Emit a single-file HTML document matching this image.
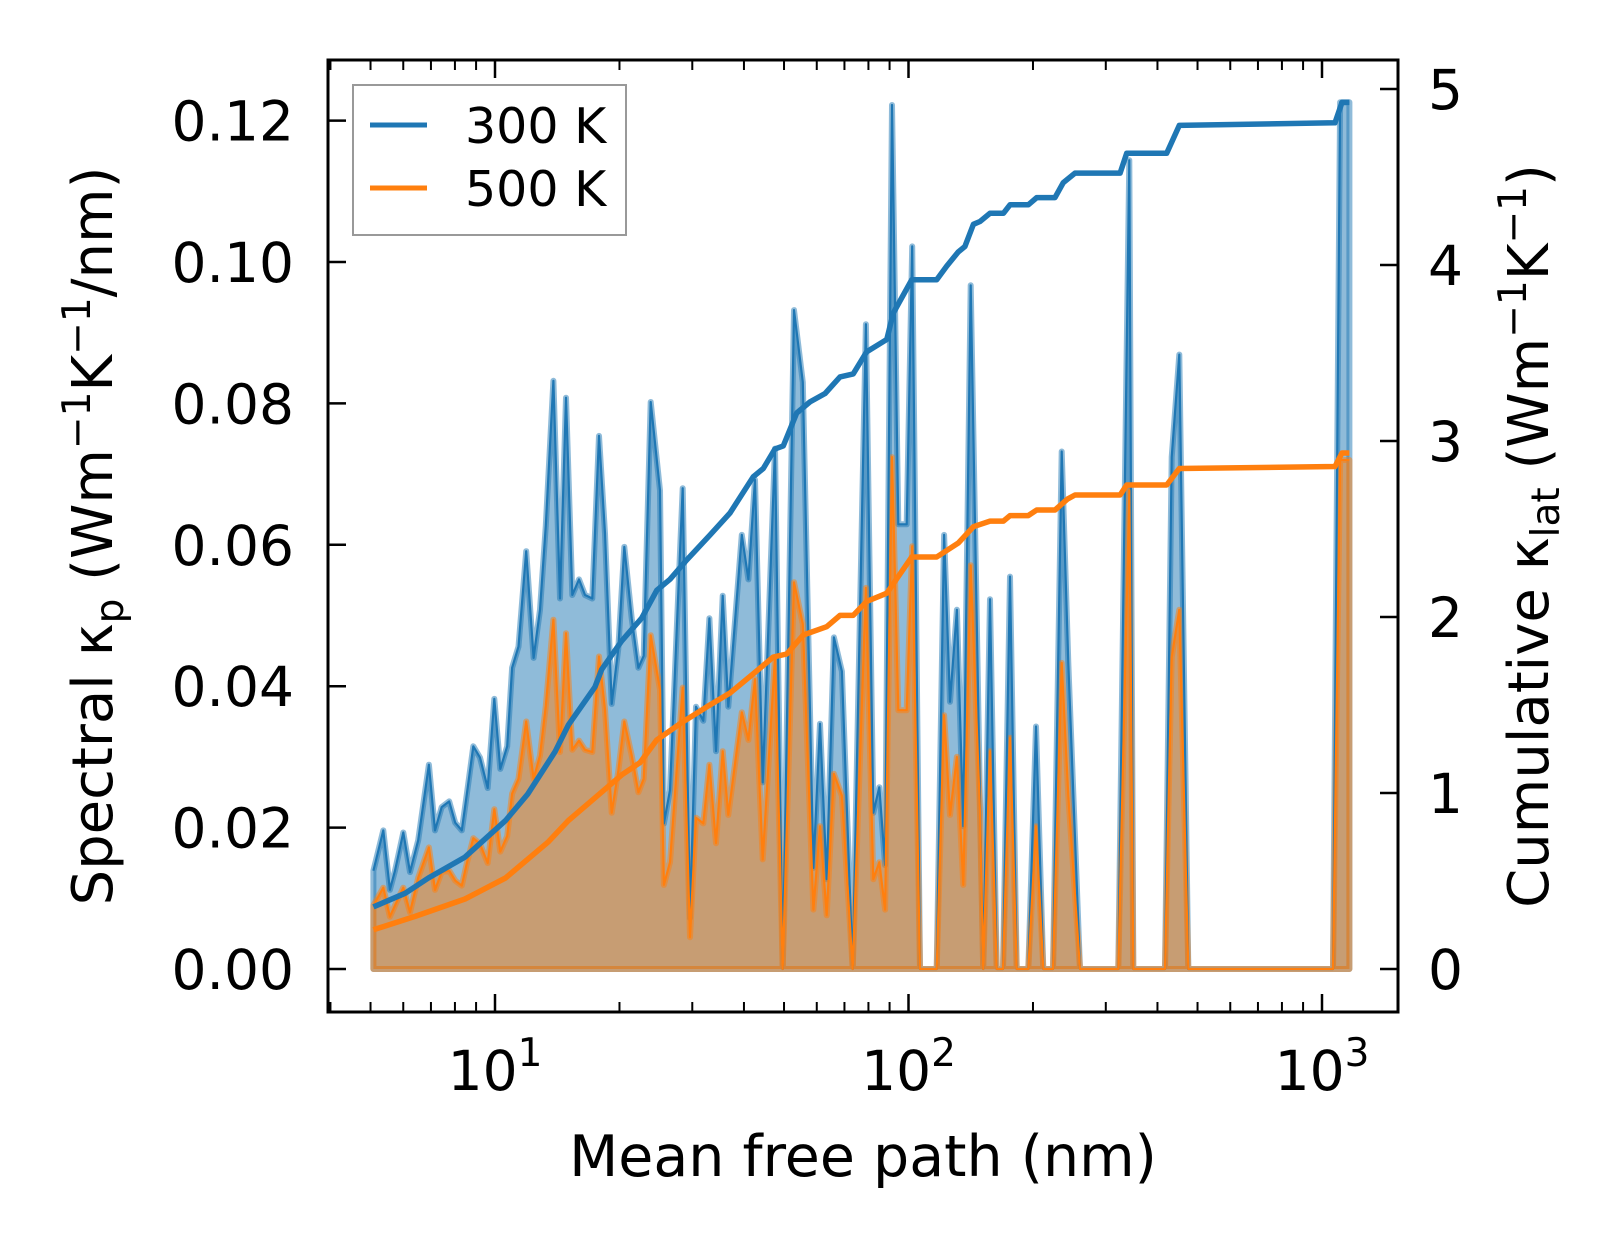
<!DOCTYPE html>
<html><head><meta charset="utf-8">
<style>
html,body{margin:0;padding:0;background:#fff;}
svg{display:block;font-family:"DejaVu Sans","Liberation Sans",sans-serif;}
</style></head>
<body>
<svg id="chart" width="1623" height="1254" viewBox="0 0 1623 1254" xmlns="http://www.w3.org/2000/svg">
  <rect x="0" y="0" width="1623" height="1254" fill="#fff"/>
  <g id="plot"></g>
  <g id="axes"></g>
  <text x="863" y="1176" font-size="57" text-anchor="middle">Mean free path (nm)</text>
  <text transform="translate(112,536) rotate(-90)" font-size="56" text-anchor="middle">Spectral κ<tspan font-size="39" dy="11">p</tspan><tspan dy="-11"> (Wm</tspan><tspan font-size="39" dy="-22">−1</tspan><tspan dy="22">K</tspan><tspan font-size="39" dy="-22">−1</tspan><tspan dy="22">/nm)</tspan></text>
  <text transform="translate(1548,536) rotate(-90)" font-size="56" text-anchor="middle">Cumulative κ<tspan font-size="39" dy="11">lat</tspan><tspan dy="-11"> (Wm</tspan><tspan font-size="39" dy="-22">−1</tspan><tspan dy="22">K</tspan><tspan font-size="39" dy="-22">−1</tspan><tspan dy="22">)</tspan></text>
  <g>
    <rect x="353" y="85" width="273" height="150" fill="#fff" fill-opacity="0.8" stroke="#999" stroke-width="2"/>
    <line x1="370" y1="125" x2="427" y2="125" stroke="#1f77b4" stroke-width="5"/>
    <text x="465" y="143" font-size="49">300 K</text>
    <line x1="370" y1="188" x2="427" y2="188" stroke="#ff7f0e" stroke-width="5"/>
    <text x="465" y="206" font-size="49">500 K</text>
  </g>
</svg>
<script>
// ---- data ----
const mfp = [5.08,5.37,5.57,5.73,6.00,6.23,6.52,6.92,7.16,7.43,7.75,8.01,8.31,8.55,8.86,9.20,9.60,9.96,10.3,10.7,11.0,11.4,11.9,12.4,12.85,13.27,13.84,14.36,14.85,15.38,15.96,16.51,17.19,17.84,18.45,19.15,19.87,20.54,21.41,22.22,22.89,23.80,25.06,25.62,26.5,28.44,29.62,30.62,31.90,32.99,34.24,35.54,36.67,39.52,41.0,42.55,44.41,47.55,49.64,52.85,55.5,58.9,61.1,63.4,66.0,69.0,73.3,78.9,82.2,85.0,87.8,91.2,94.5,99.0,102.1,106.6,117.0,121.9,126.0,130.9,135.7,141.4,148.9,151.6,157.4,163.4,169.3,176.0,182.7,194.9,203.4,211.8,223.6,234.7,243.5,259.8,321.7,342.0,349.7,417.2,433.1,451.8,475.0,1063,1106,1165];
const spec300 = [0.0139,0.0196,0.0112,0.0139,0.0193,0.0137,0.0182,0.0289,0.0196,0.0229,0.0237,0.0207,0.0196,0.0248,0.0315,0.0299,0.0256,0.0382,0.0283,0.0315,0.0426,0.0456,0.0591,0.0440,0.0508,0.0627,0.0832,0.0524,0.0808,0.0529,0.0551,0.0529,0.0524,0.0754,0.0616,0.0375,0.0453,0.0597,0.0496,0.0426,0.0443,0.0802,0.0677,0.0206,0.0253,0.0680,0.0072,0.0371,0.0351,0.0496,0.0308,0.0528,0.0371,0.0614,0.0551,0.0692,0.0264,0.0736,0,0.0932,0.0830,0.0143,0.0347,0.0127,0.0469,0.0421,0,0.0912,0.0221,0.0257,0.0147,0.1222,0.0629,0.0629,0.1022,0,0,0.0614,0.0378,0.0508,0.0202,0.0967,0.0238,0,0.0523,0,0,0.0555,0,0,0.0343,0,0,0.0732,0.0433,0,0,0.1144,0,0,0.0724,0.0869,0,0,0.1226,0.1226];
const spec500 = [0.0090,0.0115,0.0074,0.0090,0.0115,0.0080,0.0129,0.0172,0.0112,0.0137,0.0139,0.0125,0.0118,0.0150,0.0185,0.0177,0.0150,0.0226,0.0166,0.0188,0.0248,0.0269,0.0350,0.0269,0.0302,0.0372,0.0494,0.0307,0.0475,0.0310,0.0323,0.0310,0.0307,0.0442,0.0367,0.0221,0.0280,0.0350,0.0302,0.0250,0.0269,0.0472,0.0395,0.0119,0.0151,0.0398,0.0045,0.0214,0.0206,0.0289,0.0178,0.0308,0.0218,0.0363,0.0324,0.0410,0.0155,0.0441,0,0.0547,0.0488,0.0084,0.0202,0.0076,0.0276,0.0245,0,0.0539,0.0127,0.0151,0.0084,0.0724,0.0366,0.0366,0.0598,0,0,0.0359,0.0218,0.0300,0.0119,0.0571,0.0221,0,0.0308,0,0,0.0327,0,0,0.0202,0,0,0.0433,0.0245,0,0,0.0677,0,0,0.0441,0.0508,0,0,0.0720,0.0720];
const cum300X = [5.08,6.06,6.90,8.46,10.6,12.0,13.97,15.04,17.45,18.11,20.25,22.64,24.61,26.5,29.08,33.11,37.02,42.14,44.56,47.55,49.81,53.65,57.79,62.84,68.3,73.5,79.2,85.3,88.6,91.9,101.8,117.0,123.7,131.9,136.9,143.5,148.9,157.4,169.6,176.0,194.9,204.2,226.1,236.8,252.7,324.8,337.1,421.2,451.8,1075,1118,1165];
const cum300 = [0.353,0.430,0.517,0.636,0.843,0.994,1.234,1.386,1.603,1.701,1.864,1.994,2.151,2.214,2.324,2.466,2.591,2.797,2.844,2.955,2.972,3.159,3.222,3.270,3.364,3.381,3.506,3.553,3.577,3.727,3.916,3.916,3.994,4.074,4.105,4.231,4.247,4.294,4.294,4.342,4.342,4.383,4.383,4.468,4.522,4.522,4.635,4.635,4.793,4.808,4.924,4.924];
const cum500X = [5.08,6.41,8.46,10.6,13.46,15.04,17.45,20.25,22.42,24.61,28.02,32.51,37.02,42.14,47.10,50.76,55.66,63.4,68.3,73.5,79.2,88.6,101.8,117.0,131.9,143.5,157.4,169.6,176.0,194.9,204.2,226.1,242.4,252.7,324.8,337.1,421.2,451.8,1075,1118,1165];
const cum500 = [0.223,0.299,0.398,0.517,0.723,0.843,0.973,1.103,1.173,1.301,1.394,1.489,1.568,1.677,1.773,1.790,1.898,1.945,2.009,2.009,2.088,2.135,2.341,2.341,2.420,2.513,2.545,2.545,2.576,2.576,2.608,2.608,2.670,2.693,2.693,2.750,2.750,2.844,2.855,2.932,2.932];
const leftTicks = [0, 0.02, 0.04, 0.06, 0.08, 0.10, 0.12];
const leftTickLabels = ["0.00","0.02","0.04","0.06","0.08","0.10","0.12"];
const rightTicks = [0,1,2,3,4,5];
const xDecades = [1,2,3];

// ---- axis functions ----
const L=328, R=1398, T=60, B=1012;
const X = m => 495 + 413.5*(Math.log10(m)-1);
const YL = k => 969 - 7070*k;
const YR = c => 969 - 176*c;
const NS='http://www.w3.org/2000/svg';
const plot=document.getElementById('plot');
const axes=document.getElementById('axes');
function mk(tag, attrs, parent){const e=document.createElementNS(NS,tag);for(const k in attrs)e.setAttribute(k,attrs[k]);if(parent)parent.appendChild(e);return e;}

const clip=mk('clipPath',{id:'clipP'},plot);
mk('rect',{x:L,y:T,width:R-L,height:B-T},clip);
const g=mk('g',{'clip-path':'url(#clipP)'},plot);

function specSeries(vals,color,name){
  let pts=mfp.map((m,i)=>X(m).toFixed(1)+','+YL(vals[i]).toFixed(1));
  const poly='M'+X(mfp[0]).toFixed(1)+','+YL(0)+' L'+pts.join(' L')+' L'+X(mfp[mfp.length-1]).toFixed(1)+','+YL(0)+' Z';
  const f=mk('path',{d:poly,fill:color,'fill-opacity':0.5,stroke:color,'stroke-opacity':0.5,'stroke-width':6,'stroke-linejoin':'round'},g);
  
  
  return pts;
}
const p300=specSeries(spec300,'#1f77b4','spectral-300k');
const p500=specSeries(spec500,'#ff7f0e','spectral-500k');
const l3=mk('path',{d:'M'+p300.join(' L'),fill:'none',stroke:'#1f77b4','stroke-width':2.2,'stroke-linejoin':'round'},g);


const l5=mk('path',{d:'M'+p500.join(' L'),fill:'none',stroke:'#ff7f0e','stroke-width':2.2,'stroke-linejoin':'round'},g);



function cumLine(xs,vals,color,name){
  const d='M'+xs.map((m,i)=>X(m).toFixed(1)+','+YR(vals[i]).toFixed(1)).join(' L');
  const e=mk('path',{d:d,fill:'none',stroke:color,'stroke-width':5.5,'stroke-linejoin':'round'},g);
  
  
}
cumLine(cum300X,cum300,'#1f77b4','cumulative-300k-line');
cumLine(cum500X,cum500,'#ff7f0e','cumulative-500k-line');

// ---- axes ----
const frame=mk('rect',{x:L,y:T,width:R-L,height:B-T,fill:'none',stroke:'#000','stroke-width':3},axes);


leftTicks.forEach((v,i)=>{
  const y=YL(v);
  const t=mk('line',{x1:L,y1:y,x2:L+18,y2:y,stroke:'#000','stroke-width':2.5},axes);
  
  
  const lb=mk('text',{x:294,y:y+20,'font-size':55,'text-anchor':'end'},axes);
  lb.textContent=leftTickLabels[i];
  
  
});
rightTicks.forEach(v=>{
  const y=YR(v);
  const t=mk('line',{x1:R-18,y1:y,x2:R,y2:y,stroke:'#000','stroke-width':2.5},axes);
  
  
  const lb=mk('text',{x:1428,y:y+20,'font-size':55},axes);
  lb.textContent=String(v);
  
  
});
for(let d=0; d<=3; d++){
  for(let m=1;m<=9;m++){
    const v=m*Math.pow(10,d);
    const x=X(v);
    if(x<=L+1||x>=R-1) continue;
    const len = m===1?18:10;
    const tb=mk('line',{x1:x,y1:B,x2:x,y2:B-len,stroke:'#000','stroke-width':m===1?2.5:2},axes);
    
    
    const tt=mk('line',{x1:x,y1:T,x2:x,y2:T+len,stroke:'#000','stroke-width':m===1?2.5:2},axes);
    
    
  }
}
xDecades.forEach(p=>{
  const x=X(Math.pow(10,p));
  const lb=mk('text',{x:x,y:1090,'font-size':55,'text-anchor':'middle'},axes);
  
  
  const a=mk('tspan',{},lb); a.textContent='10';
  const b=mk('tspan',{'font-size':39,dy:-24},lb); b.textContent=String(p);
});
</script>
</body></html>
